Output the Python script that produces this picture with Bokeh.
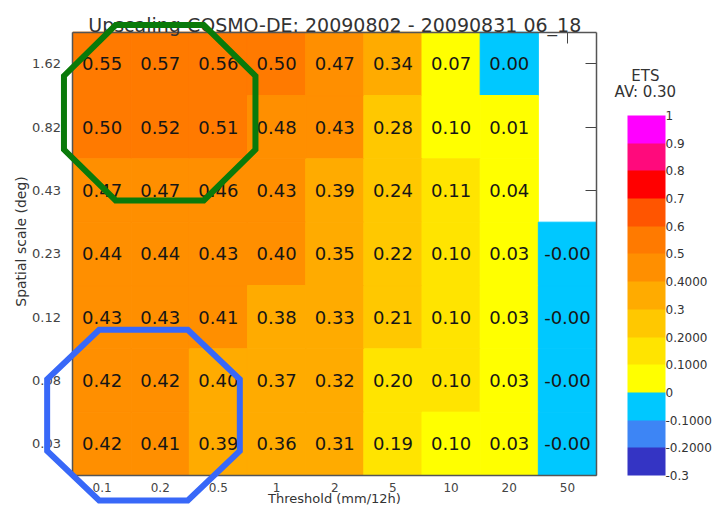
import math
from bokeh.plotting import figure
from bokeh.models import (Range1d, ColumnDataSource, LinearColorMapper, ColorBar,
                          FixedTicker, LinearAxis, PolyAnnotation, Label)
from bokeh.transform import transform
from bokeh.embed import file_html
from bokeh.resources import INLINE
from bokeh.core.properties import value

# ---------------- data ----------------
title_text = "Upscaling COSMO-DE: 20090802 - 20090831 06_18"
thresholds = ["0.1", "0.2", "0.5", "1", "2", "5", "10", "20", "50"]
scales = ["1.62", "0.82", "0.43", "0.23", "0.12", "0.08", "0.03"]   # top -> bottom
nan = float("nan")
ets_1_62 = [0.55, 0.57, 0.56, 0.503, 0.47, 0.34, 0.07, 0.00, nan]
ets_0_82 = [0.503, 0.52, 0.51, 0.48, 0.43, 0.28, 0.10, 0.01, nan]
ets_0_43 = [0.47, 0.47, 0.46, 0.43, 0.39, 0.24, 0.11, 0.04, nan]
ets_0_23 = [0.44, 0.44, 0.43, 0.402, 0.35, 0.22, 0.104, 0.03, -0.002]
ets_0_12 = [0.43, 0.43, 0.41, 0.38, 0.33, 0.21, 0.104, 0.03, -0.002]
ets_0_08 = [0.42, 0.42, 0.40, 0.37, 0.32, 0.20, 0.104, 0.03, -0.002]
ets_0_03 = [0.42, 0.41, 0.39, 0.36, 0.31, 0.19, 0.10, 0.03, -0.002]
ets_rows = [ets_1_62, ets_0_82, ets_0_43, ets_0_23, ets_0_12, ets_0_08, ets_0_03]
average_ets = 0.30

cb_ticks = [-0.3, -0.2, -0.1, 0.0, 0.1, 0.2, 0.3, 0.4, 0.5, 0.6, 0.7, 0.8, 0.9, 1.0]
cb_labels = ["-0.3", "-0.2000", "-0.1000", "0", "0.1000", "0.2000", "0.3", "0.4000",
             "0.5", "0.6", "0.7", "0.8", "0.9", "1"]

palette = ["#3434c4", "#3d85f5", "#00c8ff", "#ffff00", "#ffe400", "#ffc800", "#ffab00",
           "#ff8f00", "#ff7a00", "#ff5500", "#ff0000", "#ff0a7c", "#ff00ff"]

# highlight outlines (annotation boxes, in cell units)
highlight_green = dict(x0=-0.155, x1=3.137, y0=4.343, y1=7.113, color="#0a7a0a")
highlight_blue = dict(x0=-0.444, x1=2.868, y0=-0.395, y1=2.30, color="#3868f8")

# ---------------- build ----------------
ncol, nrow = len(thresholds), len(scales)
xs, ys, vals, labels = [], [], [], []
for i, row in enumerate(ets_rows):
    for j, v in enumerate(row):
        if math.isnan(v):
            continue
        xs.append(j + 0.5); ys.append(nrow - i - 0.5); vals.append(v); labels.append(f"{v:.2f}")
src = ColumnDataSource(dict(x=xs, y=ys, v=vals, label=labels))

x_ticks = [j + 0.5 for j in range(ncol)]
y_ticks = [nrow - i - 0.5 for i in range(nrow)]

# colour classes closed on their upper edge (0.00 falls in the (-0.1, 0] class)
eps = 1e-9
cell_mapper = LinearColorMapper(palette=palette, low=-0.3 + eps, high=1.0 + eps)
bar_mapper = LinearColorMapper(palette=palette, low=-0.3, high=1.0)

# the frame spans the whole canvas; the cell grid occupies [0, ncol] x [0, nrow]
p = figure(width=712, height=506,
           x_range=Range1d(-1.246, ncol + 1.994), y_range=Range1d(-0.4895, nrow + 0.5006),
           min_border=0, output_backend="svg", toolbar_location=None)
p.grid.visible = False
p.outline_line_color = None
p.background_fill_color = "white"
p.border_fill_color = "white"

p.rect(x="x", y="y", width=1, height=1, source=src,
       fill_color=transform("v", cell_mapper), line_color=transform("v", cell_mapper),
       line_width=1)
p.text(x="x", y="y", text="label", source=src, text_align="center", text_baseline="middle",
       text_font=value("DejaVu Sans"), text_font_size="18px", text_color="#161616")

# ---- axes fixed on the edges of the cell grid ----
xa = p.xaxis[0]
xa.fixed_location = 0
xa.bounds = (0, ncol)
xa.ticker = FixedTicker(ticks=x_ticks)
xa.major_label_overrides = {t: s for t, s in zip(x_ticks, thresholds)}
xa.axis_label = "Threshold (mm/12h)"
xa.major_label_standoff = 1
xa.axis_label_standoff = -4
xa.major_label_text_font_size = "12px"
xa.axis_label_text_font_size = "13px"
xa.axis_label_text_font = "DejaVu Sans"
xa.axis_label_text_font_style = "normal"
xa.axis_label_text_color = "#333333"

ya = p.yaxis[0]
ya.fixed_location = 0
ya.bounds = (0, nrow)
ya.ticker = FixedTicker(ticks=y_ticks)
ya.major_label_overrides = {t: s for t, s in zip(y_ticks, scales)}
ya.major_label_standoff = 6
ya.major_label_text_font_size = "13px"

for ax in (xa, ya):
    ax.major_tick_line_color = None
    ax.minor_tick_line_color = None
    ax.axis_line_color = "#555555"
    ax.axis_line_width = 1.5
    ax.major_label_text_font = "DejaVu Sans"
    ax.major_label_text_color = "#444444"

# y-axis title, centred a little above the middle of the grid as in the original
ylab = LinearAxis(fixed_location=0, bounds=(0.39, nrow), ticker=FixedTicker(ticks=[]),
                  axis_label="Spatial scale (deg)")
ylab.axis_line_color = None
ylab.major_tick_in = 0
ylab.major_tick_out = 0
ylab.minor_tick_line_color = None
ylab.axis_label_standoff = 44
ylab.axis_label_text_font = "DejaVu Sans"
ylab.axis_label_text_font_size = "14px"
ylab.axis_label_text_font_style = "normal"
ylab.axis_label_text_color = "#333333"
p.add_layout(ylab, "left")

# right / top box edges
for side, loc, bnd, ticks in (("right", ncol, (0, nrow), y_ticks), ("above", nrow, (0, ncol), x_ticks)):
    edge = LinearAxis(fixed_location=loc, bounds=bnd, ticker=FixedTicker(ticks=ticks))
    edge.axis_line_color = "#555555"
    edge.axis_line_width = 1.5
    edge.major_tick_line_color = None
    edge.minor_tick_line_color = None
    edge.major_label_text_color = None
    p.add_layout(edge, side)
    # inward ticks, painted beneath the cells
    tk = LinearAxis(fixed_location=loc, bounds=bnd, ticker=FixedTicker(ticks=ticks), level="underlay")
    tk.axis_line_color = None
    tk.major_tick_in = 11
    tk.major_tick_out = 0
    tk.major_tick_line_color = "#444444"
    tk.minor_tick_line_color = None
    tk.major_label_text_color = None
    p.add_layout(tk, side)

# ---- title & colour bar ----
p.add_layout(Label(x=ncol / 2, y=nrow + 0.117, text=title_text, text_align="center",
                   text_baseline="alphabetic", text_font="DejaVu Sans", text_font_size="19px",
                   text_color="#333333"))

cb = ColorBar(color_mapper=bar_mapper, ticker=FixedTicker(ticks=cb_ticks),
              major_label_overrides={t: l for t, l in zip(cb_ticks, cb_labels)},
              width=38, height=360, padding=0, margin=0, location=(627, 31),
              bar_line_color=None, major_tick_line_color=None, minor_tick_line_color=None,
              label_standoff=0, major_label_text_font="DejaVu Sans",
              major_label_text_font_size="12px", major_label_text_color="#333333",
              background_fill_alpha=0, border_line_color=None)
p.add_layout(cb)

p.add_layout(Label(x=9.84, y=6.316, text="ETS", text_align="center", text_baseline="middle",
                   text_font="DejaVu Sans", text_font_size="15px", text_color="#333333"))
p.add_layout(Label(x=9.84, y=6.048, text=f"AV: {average_ets:.2f}", text_align="center",
                   text_baseline="middle", text_font="DejaVu Sans", text_font_size="15px",
                   text_color="#333333"))

# ---- highlight octagons ----
def octagon(b, fx=0.27, fy=0.29):
    x0, x1, y0, y1 = b["x0"], b["x1"], b["y0"], b["y1"]
    cx, cy = (x1 - x0) * fx, (y1 - y0) * fy
    px = [x0 + cx, x1 - cx, x1, x1, x1 - cx, x0 + cx, x0, x0]
    py = [y1, y1, y1 - cy, y0 + cy, y0, y0, y0 + cy, y1 - cy]
    return px, py

for b in (highlight_green, highlight_blue):
    px, py = octagon(b)
    p.add_layout(PolyAnnotation(xs=px, ys=py, fill_alpha=0, line_color=b["color"],
                                line_alpha=1.0, line_width=6, line_join="miter",
                                level="overlay"))

open("out.html", "w").write(file_html(p, INLINE))
